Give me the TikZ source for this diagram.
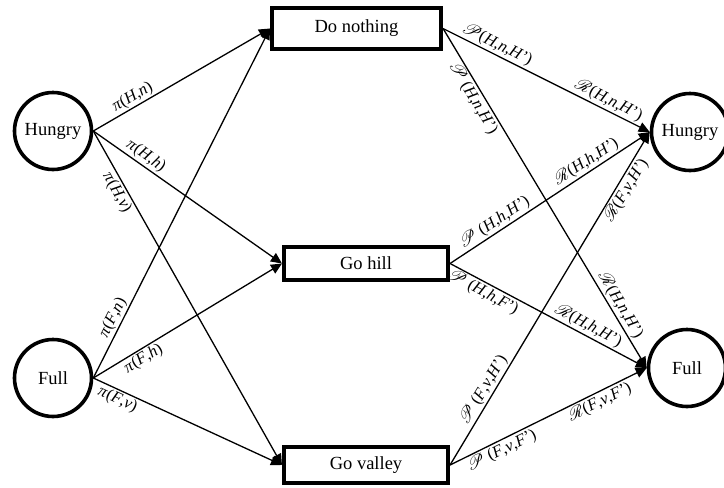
\documentclass[tikz,border=0pt]{standalone}
\usepackage{fontspec}
\setmainfont{Liberation Serif}
\usepackage{mathrsfs}
\usetikzlibrary{arrows.meta}

% italic variable inside a transition label
\newcommand{\vv}[1]{\textit{#1}}
\newcommand{\probP}{$\mathscr{P}$}
\newcommand{\rewR}{$\mathscr{R}$}

\begin{document}
\begin{tikzpicture}[x=1pt,y=-1pt,
  state/.style={circle,draw,line width=3.6pt,minimum size=77pt,inner sep=0pt,
    font=\fontsize{18.5}{21}\selectfont},
  action/.style={rectangle,draw,line width=3.6pt,inner sep=0pt,
    font=\fontsize{18.5}{21}\selectfont},
  edge/.style={line width=1.3pt,-{Triangle[length=11pt,width=10pt]}},
  lab/.style={sloped,inner sep=1.5pt,font=\fontsize{16.5}{18}\selectfont}]
\useasboundingbox (0,0) rectangle (724,488);

% current states
\node[state] (hl) at (53,131) {Hungry};
\node[state] (fl) at (53,378) {Full};

% actions
\node[action,minimum width=169.5pt,minimum height=41.5pt] (dn) at (356.5,28.5) {Do nothing};
\node[action,minimum width=164.5pt,minimum height=33.5pt] (gh) at (366,263.5) {Go hill};
\node[action,minimum width=164.5pt,minimum height=35.5pt] (gv) at (366,465) {Go valley};

% next states
\node[state] (hr) at (690,132) {Hungry};
\node[state] (fr) at (687,368) {Full};

% policy edges
\draw[edge] (hl.east) -- node[lab,above,pos=.25]{\vv{π}(\vv{H},\vv{n})} (dn.west);
\draw[edge] (hl.east) -- node[lab,above,pos=.25]{\vv{π}(\vv{H},\vv{h})} (gh.west);
\draw[edge] (hl.east) -- node[lab,below,pos=.17]{\vv{π}(\vv{H},\vv{v})} (gv.west);
\draw[edge] (fl.east) -- node[lab,above,pos=.16]{\vv{π}(\vv{F},\vv{n})} (dn.west);
\draw[edge] (fl.east) -- node[lab,below,pos=.24]{\vv{π}(\vv{F},\vv{h})} (gh.west);
\draw[edge] (fl.east) -- node[lab,below,pos=.15]{\vv{π}(\vv{F},\vv{v})} (gv.west);

% transition edges
\draw[edge] (dn.east) --
  node[lab,above,pos=.24]{\probP(\vv{H},\vv{n},\vv{H}')}
  node[lab,above,pos=.78]{\rewR(\vv{H},\vv{n},\vv{H}')} (hr.west);
\draw[edge] (dn.east) --
  node[lab,below,pos=.19]{\probP\ (\vv{H},\vv{n},\vv{H}')}
  node[lab,above,pos=.83]{\rewR(\vv{H},\vv{n},\vv{H}')} (fr.west);
\draw[edge] (gh.east) --
  node[lab,above,pos=.25]{\probP\ (\vv{H},\vv{h},\vv{H}')}
  node[lab,above,pos=.71]{\rewR(\vv{H},\vv{h},\vv{H}')} (hr.west);
\draw[edge] (gh.east) --
  node[lab,below,pos=.19]{\probP\ (\vv{H},\vv{h},\vv{F}')}
  node[lab,above,pos=.68]{\rewR(\vv{H},\vv{h},\vv{H}')} (fr.west);
\draw[edge] (gv.east) --
  node[lab,above,pos=.21]{\probP\ (\vv{F},\vv{v},\vv{H}')}
  node[lab,below,pos=.84]{\rewR(\vv{F},\vv{v},\vv{H}')} (hr.west);
\draw[edge] (gv.east) --
  node[lab,below,pos=.24]{\probP\ (\vv{F},\vv{v},\vv{F}')}
  node[lab,below,pos=.74]{\rewR(\vv{F},\vv{v},\vv{F}')} (fr.west);
\end{tikzpicture}
\end{document}
